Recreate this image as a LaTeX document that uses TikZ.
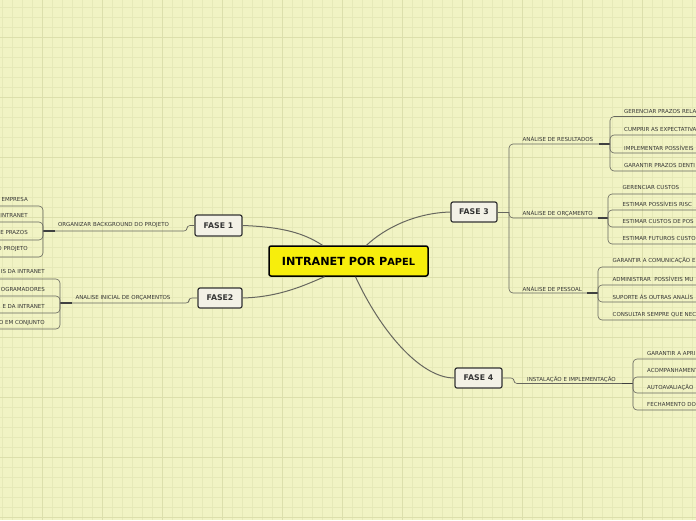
\documentclass[tikz,border=0pt]{standalone}
\usepackage{fontspec}
\setmainfont{DejaVu Sans}
\definecolor{bg}{HTML}{F1F3C4}
\definecolor{gridminor}{HTML}{E6E9B8}
\definecolor{gridmajor}{HTML}{DCDFAC}
\definecolor{linec}{HTML}{66665E}
\definecolor{stubc}{HTML}{3F4040}
\definecolor{txt}{HTML}{353535}
\definecolor{boxf}{HTML}{F3F1E6}
\definecolor{boxb}{HTML}{333333}
\definecolor{yel}{HTML}{F7EE0C}
\begin{document}
\begin{tikzpicture}[x=1pt,y=-1pt,
  conn/.style={draw=linec, line width=1pt},
  thinline/.style={draw=linec, line width=0.6pt, rounded corners=4pt},
  stub/.style={draw=stubc, line width=1.5pt},
  leaf/.style={font=\fontsize{5.5}{6.5}\selectfont, text=txt, inner sep=0pt},
  fase/.style={draw=boxb, fill=boxf, line width=1.2pt, rounded corners=2pt,
    font=\bfseries\fontsize{7.8}{9}\selectfont, text=txt, inner sep=0pt},
  central/.style={draw=black, fill=yel, line width=1.5pt, rounded corners=2pt,
    font=\bfseries\fontsize{11.2}{13}\selectfont, text=black, inner sep=0pt,
    minimum width=159pt, minimum height=30pt}
]
\useasboundingbox (0,0) rectangle (696,520);
\fill[bg] (0,0) rectangle (696,520);
\foreach \x in {2.5,12.5,...,700} \draw[gridminor, line width=0.5pt] (\x,0) -- (\x,520);
\foreach \y in {7.7,17.7,...,520} \draw[gridminor, line width=0.5pt] (0,\y) -- (696,\y);
\foreach \x in {42,102,...,700} \draw[gridmajor, line width=0.6pt] (\x,0) -- (\x,520);
\foreach \y in {37.7,97.7,...,520} \draw[gridmajor, line width=0.6pt] (0,\y) -- (696,\y);

% central and phases
\node[central] (c) at (348.5,261) {INTRANET POR P{\fontsize{9.8}{11}\selectfont APEL}};
\node[fase, minimum width=47pt, minimum height=21pt] (f1) at (218.5,225.5) {FASE 1};
\node[fase, minimum width=44pt, minimum height=20pt] (f2) at (220,298) {FASE2};
\node[fase, minimum width=46pt, minimum height=20pt] (f3) at (474,212) {FASE 3};
\node[fase, minimum width=47pt, minimum height=20pt] (f4) at (478.5,378) {FASE 4};

\draw[conn] (f1.east) .. controls (285,227) and (305,234) .. ([xshift=-26pt]c.north);
\draw[conn] (f2.east) .. controls (280,297) and (305,285) .. ([xshift=-24pt]c.south);
\draw[conn] ([xshift=18pt]c.north) .. controls (385,228) and (415,213) .. (f3.west);
\draw[conn] ([xshift=7pt]c.south) .. controls (380,330) and (420,378) .. (f4.west);

% ---------- FASE 1 branch
\coordinate (j1) at (43,231);
\coordinate (j1s) at (55,231);
\node[leaf] (s1) at (113.5,225.5) {ORGANIZAR BACKGROUND DO PROJETO};
\draw[thinline, rounded corners=3pt] (f1.west) -- (187,225.5) -- (187,231) -- (j1s);
\draw[stub] (j1s) -- (j1);
\node[leaf, anchor=east] (l11) at (28,199) {EMPRESA};
\node[leaf, anchor=east] (l12) at (28,215.5) {INTRANET};
\node[leaf, anchor=east] (l13) at (28,232.5) {E PRAZOS};
\node[leaf, anchor=east] (l14) at (28,249.5) {O PROJETO};
\coordinate (e11) at (-5,206);
\coordinate (e12) at (-5,222);
\coordinate (e13) at (-5,240);
\coordinate (e14) at (-5,257);
\foreach \e in {e11,e12,e13,e14} \draw[thinline] (j1) |- (\e);

% ---------- FASE 2 branch
\coordinate (j2) at (60,303);
\coordinate (j2s) at (72,303);
\node[leaf] (s2) at (123,298) {ANALISE INICIAL DE ORÇAMENTOS};
\draw[thinline, rounded corners=3pt] (f2.west) -- (189,298) -- (189,303) -- (j2s);
\draw[stub] (j2s) -- (j2);
\node[leaf, anchor=east] (l21) at (45,271.5) {IS DA INTRANET};
\node[leaf, anchor=east] (l22) at (45,289) {OGRAMADORES};
\node[leaf, anchor=east] (l23) at (45,306) {E DA INTRANET};
\node[leaf, anchor=east] (l24) at (45,323) {O EM CONJUNTO};
\coordinate (e21) at (-5,279);
\coordinate (e22) at (-5,296);
\coordinate (e23) at (-5,313);
\coordinate (e24) at (-5,329);
\foreach \e in {e21,e22,e23,e24} \draw[thinline] (j2) |- (\e);

% ---------- FASE 3 branch
\coordinate (f3j) at (509,212);
\draw[thinline] (f3.east) -- (f3j);
\node[leaf, anchor=west] (s31) at (522.5,138.5) {ANÁLISE DE RESULTADOS};
\node[leaf, anchor=west] (s32) at (522.5,213) {ANÁLISE DE ORÇAMENTO};
\node[leaf, anchor=west] (s33) at (522.5,288.5) {ANÁLISE DE PESSOAL};
\coordinate (k31) at (599,144);
\coordinate (k32) at (598,218);
\coordinate (k33) at (587,293);
\coordinate (j31) at (610,144);
\coordinate (j32) at (608,218);
\coordinate (j33) at (598,293);
\draw[thinline] (f3j) |- (k31);
\draw[thinline] (f3j) |- (k32);
\draw[thinline] (f3j) |- (k33);
\draw[stub] (k31) -- (j31);
\draw[stub] (k32) -- (j32);
\draw[stub] (k33) -- (j33);

% resultados children
\node[leaf, anchor=west] (r1) at (624,111) {GERENCIAR PRAZOS RELA};
\node[leaf, anchor=west] (r2) at (624,129.5) {CUMPRIR AS EXPECTATIVA};
\node[leaf, anchor=west] (r3) at (624,148) {IMPLEMENTAR POSSÍVEIS};
\node[leaf, anchor=west] (r4) at (624,165) {GARANTIR PRAZOS DENTI};
\coordinate (er1) at (705,116.5);
\coordinate (er2) at (705,135);
\coordinate (er3) at (705,153);
\coordinate (er4) at (705,171);
\foreach \e in {er1,er2,er3,er4} \draw[thinline] (j31) |- (\e);

% orcamento children
\node[leaf, anchor=west] (o1) at (622.5,187) {GERENCIAR CUSTOS};
\node[leaf, anchor=west] (o2) at (622.5,204) {ESTIMAR POSSÍVEIS RISC};
\node[leaf, anchor=west] (o3) at (622.5,221) {ESTIMAR CUSTOS DE POS};
\node[leaf, anchor=west] (o4) at (622.5,238) {ESTIMAR FUTUROS CUSTO};
\coordinate (eo1) at (705,194);
\coordinate (eo2) at (705,210);
\coordinate (eo3) at (705,227);
\coordinate (eo4) at (705,244);
\foreach \e in {eo1,eo2,eo3,eo4} \draw[thinline] (j32) |- (\e);

% pessoal children
\node[leaf, anchor=west] (p1) at (612.5,260.5) {GARANTIR A COMUNICAÇÃO E};
\node[leaf, anchor=west] (p2) at (612.5,279) {ADMINISTRAR\ \ POSSÍVEIS MU};
\node[leaf, anchor=west] (p3) at (612.5,297) {SUPORTE ÀS OUTRAS ANALÍS};
\node[leaf, anchor=west] (p4) at (612.5,314.5) {CONSULTAR SEMPRE QUE NEC};
\coordinate (ep1) at (705,267);
\coordinate (ep2) at (705,285);
\coordinate (ep3) at (705,302);
\coordinate (ep4) at (705,320);
\foreach \e in {ep1,ep2,ep3,ep4} \draw[thinline] (j33) |- (\e);

% ---------- FASE 4 branch
\node[leaf, anchor=west] (s4) at (527,379) {INSTALAÇÃO E IMPLEMENTAÇÃO};
\coordinate (k4) at (622,383.5);
\coordinate (j4) at (633,383.5);
\draw[thinline, rounded corners=3pt] (f4.east) -- (514,378) -- (514,383.5) -- (k4);
\draw[stub] (k4) -- (j4);
\node[leaf, anchor=west] (q1) at (647,353) {GARANTIR A APRI};
\node[leaf, anchor=west] (q2) at (647,370) {ACOMPANHAMENT};
\node[leaf, anchor=west] (q3) at (647,387) {AUTOAVALIAÇÃO};
\node[leaf, anchor=west] (q4) at (647,404) {FECHAMENTO DO};
\coordinate (eq1) at (705,359);
\coordinate (eq2) at (705,377);
\coordinate (eq3) at (705,393);
\coordinate (eq4) at (705,410);
\foreach \e in {eq1,eq2,eq3,eq4} \draw[thinline] (j4) |- (\e);
\end{tikzpicture}
\end{document}
